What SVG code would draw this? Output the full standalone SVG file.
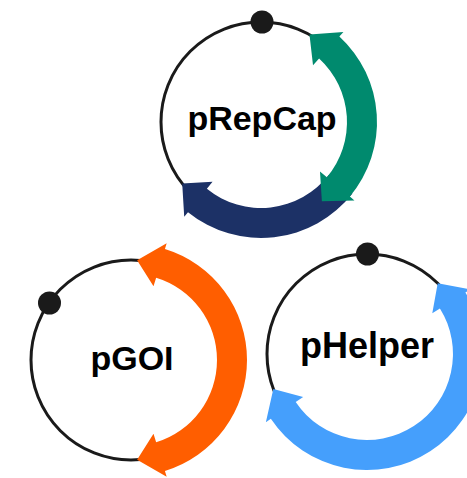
<svg xmlns="http://www.w3.org/2000/svg" width="467" height="478" viewBox="0 0 467 478">
  <style>
    .backbone { fill: none; stroke: #1a1a1a; stroke-width: 3; }
    .ori { fill: #1a1a1a; }
    .label { font-family: "Liberation Sans", Arial, sans-serif; font-weight: bold; font-size: 34px; fill: #000; text-anchor: middle; }
    .rep { fill: #008a6e; }
    .cap { fill: #1c3166; }
    .goi { fill: #ff5e00; }
    .helper { fill: #459ffc; }
  </style>
  <rect width="467" height="478" fill="#ffffff"/>

  <!-- pRepCap plasmid -->
  <g id="pRepCap">
    <circle class="backbone" cx="261" cy="122" r="100"/>
    <path class="cap" d="M352.41,193.42 A116,116 0 0 1 188.00,212.14 L184.23,216.81 L182.20,183.57 L212.54,181.84 L206.88,188.83 A86,86 0 0 0 328.77,174.95 Z"/>
    <path class="rep" d="M309.48,34.54 L343.42,32.05 L339.37,36.47 A116,116 0 0 1 349.86,196.56 L354.45,200.42 L321.88,201.34 L319.98,171.50 L326.88,177.28 A86,86 0 0 0 319.10,58.59 L313.02,65.23 Z"/>
    <circle class="ori" cx="262" cy="22" r="11.5"/>
    <text class="label" x="262" y="130">pRepCap</text>
  </g>

  <!-- pGOI plasmid -->
  <g id="pGOI">
    <circle class="backbone" cx="131" cy="360" r="100"/>
    <path class="goi" d="M137.10,260.19 L166.67,243.33 L164.92,249.07 A116,116 0 0 1 164.92,470.93 L166.67,476.67 L137.10,459.81 L153.51,433.64 L156.14,442.24 A86,86 0 0 0 156.14,277.76 L153.51,286.36 Z"/>
    <circle class="ori" cx="49.5" cy="303" r="11.5"/>
    <text class="label" x="132" y="370">pGOI</text>
  </g>

  <!-- pHelper plasmid -->
  <g id="pHelper">
    <circle class="backbone" cx="367" cy="354" r="100"/>
    <path class="helper" d="M437.71,283.29 L470.46,289.35 L465.37,292.53 A116,116 0 0 1 270.83,418.87 L265.86,422.22 L273.33,389.02 L303.16,397.06 L295.70,402.09 A86,86 0 0 0 439.93,308.43 L432.30,313.20 Z"/>
    <circle class="ori" cx="367.5" cy="254" r="11.5"/>
    <text class="label" x="367" y="358" style="font-size:36px">pHelper</text>
  </g>
</svg>
